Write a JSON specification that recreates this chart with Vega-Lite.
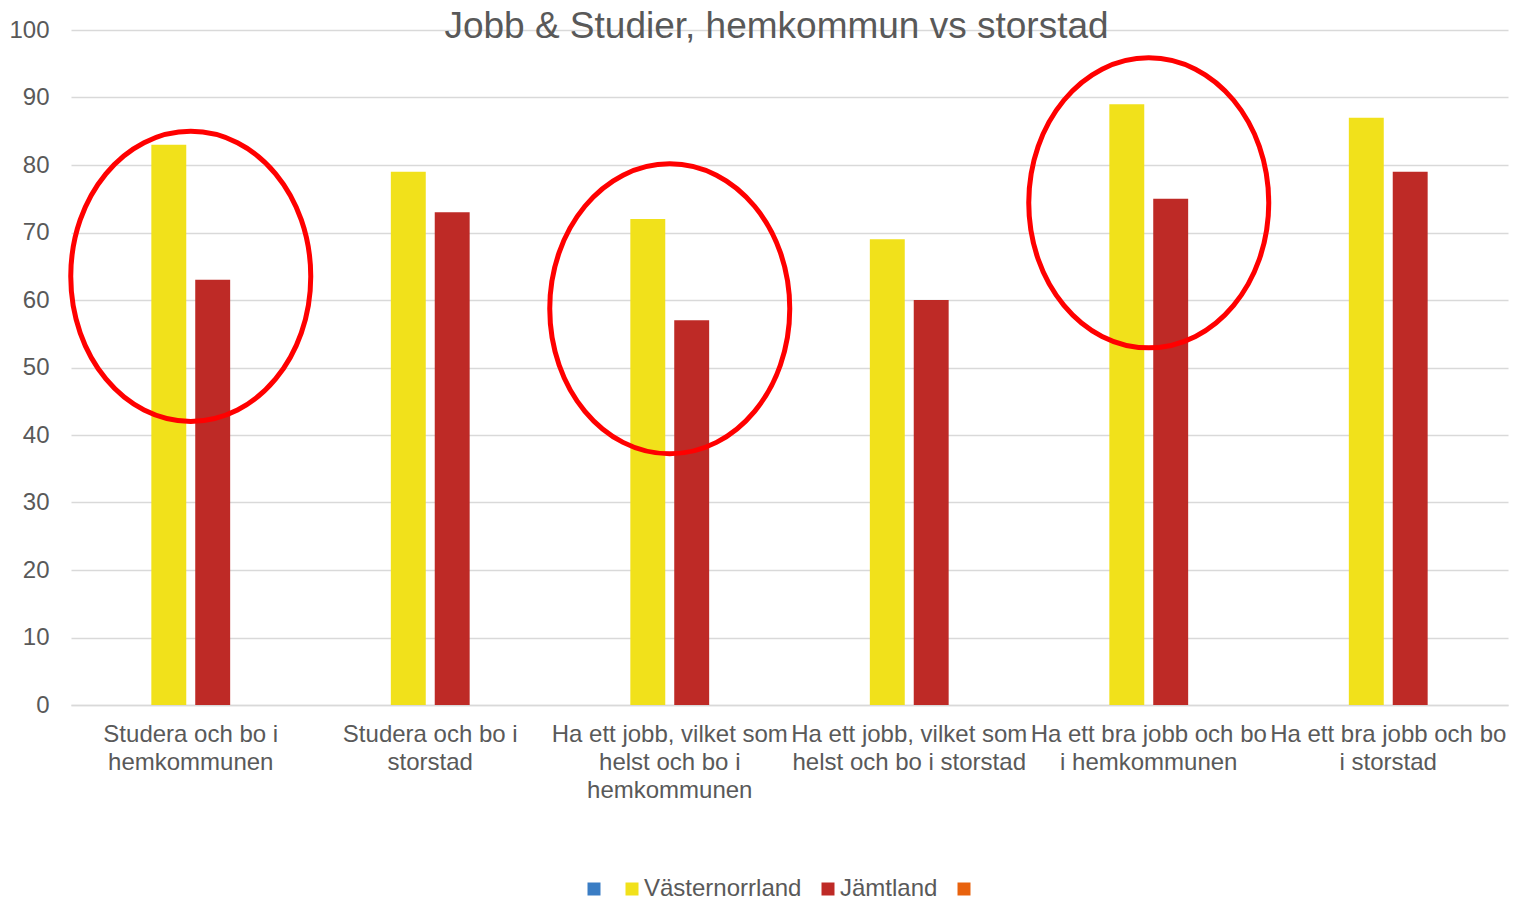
{
  "$schema": "https://vega.github.io/schema/vega-lite/v6.json",
  "width": 1437,
  "height": 675,
  "autosize": {"type": "none"},
  "padding": {"left": 71, "top": 30, "right": 8, "bottom": 195},
  "background": "white",
  "config": {
    "view": {"stroke": null},
    "font": "Liberation Sans"
  },
  "title": {
    "text": "Jobb & Studier, hemkommun vs storstad",
    "fontSize": 37,
    "font": "Liberation Sans",
    "fontWeight": "normal",
    "color": "#595959",
    "anchor": "middle",
    "frame": "group",
    "offset": -28,
    "dx": -13
  },
  "datasets": {
    "staplar": [
      {"kategori": "Studera och bo i\nhemkommunen", "serie": "Västernorrland", "varde": 83},
      {"kategori": "Studera och bo i\nhemkommunen", "serie": "Jämtland", "varde": 63},
      {"kategori": "Studera och bo i\nstorstad", "serie": "Västernorrland", "varde": 79},
      {"kategori": "Studera och bo i\nstorstad", "serie": "Jämtland", "varde": 73},
      {"kategori": "Ha ett jobb, vilket som\nhelst och bo i\nhemkommunen", "serie": "Västernorrland", "varde": 72},
      {"kategori": "Ha ett jobb, vilket som\nhelst och bo i\nhemkommunen", "serie": "Jämtland", "varde": 57},
      {"kategori": "Ha ett jobb, vilket som\nhelst och bo i storstad", "serie": "Västernorrland", "varde": 69},
      {"kategori": "Ha ett jobb, vilket som\nhelst och bo i storstad", "serie": "Jämtland", "varde": 60},
      {"kategori": "Ha ett bra jobb och bo\ni hemkommunen", "serie": "Västernorrland", "varde": 89},
      {"kategori": "Ha ett bra jobb och bo\ni hemkommunen", "serie": "Jämtland", "varde": 75},
      {"kategori": "Ha ett bra jobb och bo\ni storstad", "serie": "Västernorrland", "varde": 87},
      {"kategori": "Ha ett bra jobb och bo\ni storstad", "serie": "Jämtland", "varde": 79}
    ],
    "ringar": [
      {"kategori": "Studera och bo i\nhemkommunen", "mitt": 63.5},
      {"kategori": "Ha ett jobb, vilket som\nhelst och bo i\nhemkommunen", "mitt": 58.7},
      {"kategori": "Ha ett bra jobb och bo\ni hemkommunen", "mitt": 74.4}
    ]
  },
  "layer": [
    {
      "data": {"name": "staplar"},
      "mark": {"type": "bar"},
      "encoding": {
        "x": {
          "field": "kategori",
          "type": "nominal",
          "sort": null,
          "scale": {
            "domain": [
              "Studera och bo i\nhemkommunen",
              "Studera och bo i\nstorstad",
              "Ha ett jobb, vilket som\nhelst och bo i\nhemkommunen",
              "Ha ett jobb, vilket som\nhelst och bo i storstad",
              "Ha ett bra jobb och bo\ni hemkommunen",
              "Ha ett bra jobb och bo\ni storstad"
            ],
            "paddingInner": 0,
            "paddingOuter": 0
          },
          "axis": {
            "title": null,
            "labelExpr": "split(datum.label, '\\n')",
            "labelFontSize": 24,
            "labelColor": "#595959",
            "labelFont": "Liberation Sans",
            "labelLineHeight": 28,
            "labelPadding": 17,
            "ticks": false,
            "domainColor": "#d9d9d9",
            "domainWidth": 1.3,
            "labelAngle": 0,
            "labelLimit": 0,
            "labelOverlap": false,
            "grid": false
          }
        },
        "xOffset": {
          "field": "serie",
          "type": "nominal",
          "scale": {
            "domain": ["S1", "Västernorrland", "Jämtland", "S4"],
            "paddingInner": 0.2045,
            "paddingOuter": 0.83
          }
        },
        "y": {
          "field": "varde",
          "type": "quantitative",
          "scale": {"domain": [0, 100]},
          "axis": {
            "title": null,
            "values": [0, 10, 20, 30, 40, 50, 60, 70, 80, 90, 100],
            "labelFontSize": 24,
            "labelColor": "#595959",
            "labelFont": "Liberation Sans",
            "labelPadding": 22,
            "ticks": false,
            "domain": false,
            "gridColor": "#d9d9d9",
            "gridWidth": 1.3
          }
        },
        "color": {
          "field": "serie",
          "type": "nominal",
          "scale": {
            "domain": ["S1", "Västernorrland", "Jämtland", "S4"],
            "range": ["#3a7dc4", "#f1e11b", "#be2a26", "#e8620e"]
          },
          "legend": {
            "orient": "none",
            "legendX": 511,
            "legendY": 847,
            "direction": "horizontal",
            "title": null,
            "symbolType": "square",
            "symbolSize": 169,
            "symbolStrokeWidth": 0,
            "labelFontSize": 24,
            "labelColor": "#595959",
            "labelFont": "Liberation Sans",
            "labelOffset": 0,
            "columnPadding": 14,
            "labelExpr": "datum.label == 'S1' || datum.label == 'S4' ? '' : datum.label"
          }
        }
      }
    },
    {
      "data": {"name": "ringar"},
      "mark": {
        "type": "point",
        "shape": "M -0.8276 0 A 0.8276 1 0 1 1 0.8276 0 A 0.8276 1 0 1 1 -0.8276 0 Z",
        "filled": false,
        "size": 84100,
        "stroke": "#ff0000",
        "strokeWidth": 5,
        "opacity": 1
      },
      "encoding": {
        "x": {"field": "kategori", "type": "nominal", "sort": null},
        "y": {"field": "mitt", "type": "quantitative"}
      }
    }
  ]
}
